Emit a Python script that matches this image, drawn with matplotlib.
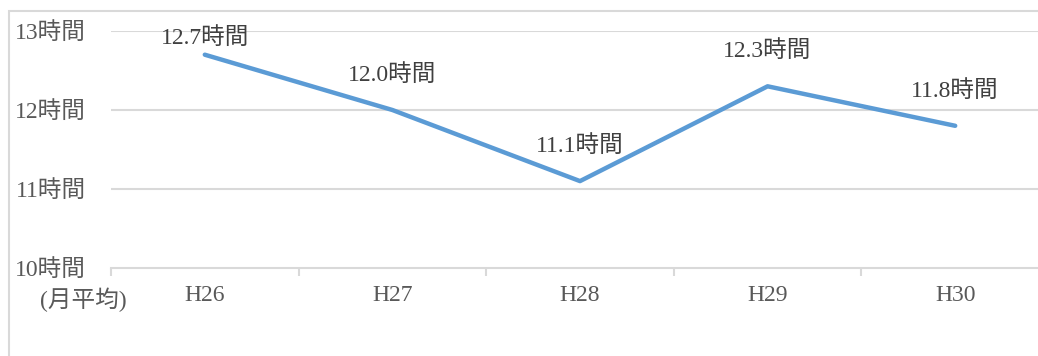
import matplotlib.pyplot as plt
from matplotlib.patches import Rectangle

years = ['H26', 'H27', 'H28', 'H29', 'H30']
hours = [12.7, 12.0, 11.1, 12.3, 11.8]
yticks = [10, 11, 12, 13]

font = ['Liberation Serif', 'Noto Sans CJK JP']
plt.rcParams['font.family'] = font
txt_col = '#595959'
grid_col = '#d9d9d9'
fs = 17

fig = plt.figure(figsize=(10.38, 3.56), dpi=100)
ax = fig.add_axes([111/1038, 88/356, 938/1038, 237/356])

# outer chart frame (cut off on right/bottom like the reference)
fig.patches.append(Rectangle((9/1038, -0.1), 1.2, 345/356 + 0.1,
                             transform=fig.transFigure, fill=False,
                             edgecolor=grid_col, linewidth=1.5))

x = list(range(len(years)))
ax.plot(x, hours, color='#5b9bd5', linewidth=3.2, solid_capstyle='round',
        solid_joinstyle='round', zorder=3)

ax.set_xlim(-0.5, len(years) - 0.5)
ax.set_ylim(10, 13)

# labels sit above the point, but stay inside the plot area
px_per_unit = 237 / 3
for xi, v in zip(x, hours):
    above = (13 - v) * px_per_unit
    off = min(35, above - 7)
    ax.annotate(f'{v:.1f}時間', (xi, v), xytext=(0, off * 0.72), textcoords='offset points',
                ha='center', va='center', fontsize=fs, color='#404040')

ax.set_yticks(yticks)
ax.set_yticklabels([f'{t}時間' for t in yticks], fontsize=fs, color=txt_col)
ax.tick_params(axis='y', length=0, pad=18)
for t in yticks[1:]:
    ax.axhline(t, color=grid_col, linewidth=1.5, zorder=1)

ax.set_xticks([i + 0.5 for i in range(-1, len(years) - 1)] + [len(years) - 0.5])
ax.set_xticklabels([])
ax.tick_params(axis='x', length=6, width=1.5, color=grid_col, direction='out')
ax.set_xticks(x, minor=True)
ax.set_xticklabels(years, minor=True, fontsize=fs, color=txt_col)
ax.tick_params(axis='x', which='minor', length=0, pad=12)

for s in ['top', 'right', 'left']:
    ax.spines[s].set_visible(False)
ax.spines['bottom'].set_color(grid_col)
ax.spines['bottom'].set_linewidth(1.5)

fig.text(83/1038, 1 - 300/356, '(月平均)', ha='center', va='center',
         fontsize=fs, color=txt_col)

fig.savefig('out.png', dpi=100)
